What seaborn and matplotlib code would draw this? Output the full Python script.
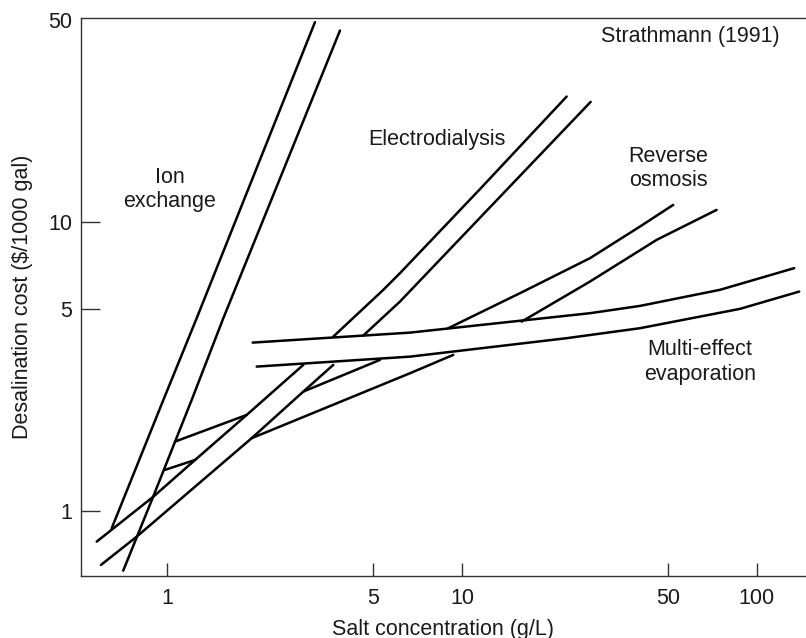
import numpy as np
import pandas as pd
import matplotlib
matplotlib.use("Agg")
import matplotlib.pyplot as plt
import seaborn as sns

# Values: salt concentration (g/L) vs cost ($/1000 gal).
# Each band edge is split where it passes under another band.
ix_left_x = [[0.647, 0.969, 1.257, 3.168]]
ix_left_y = [[0.873, 2.427, 4.652, 49.14]]
ix_right_x = [[0.708, 0.894, 1.209, 1.548, 3.852]]
ix_right_y = [[0.623, 1.121, 2.427, 4.652, 45.97]]

ed_upper_x = [[0.5755, 0.896, 1.241, 1.858, 2.892], [3.656, 5.403, 6.155, 11.5, 22.64]]
ed_upper_y = [[0.785, 1.123, 1.504, 2.153, 3.207], [4.018, 5.829, 6.657, 13.0, 27.17]]
ed_lower_x = [[0.595, 0.787, 1.932, 2.885, 3.656], [4.62, 6.155, 13.45, 27.32]]
ed_lower_y = [[0.652, 0.817, 1.789, 2.587, 3.207], [4.05, 5.31, 12.23, 26.05]]

ro_upper_x = [[1.061, 1.858], [2.892, 5.265], [8.98, 16.13, 27.16, 40.15, 52.09]]
ro_upper_y = [[1.741, 2.153], [2.593, 3.337], [4.295, 5.75, 7.5, 9.65, 11.47]]
ro_lower_x = [[0.981, 1.241], [1.932, 6.657, 9.336], [15.93, 27.16, 45.75, 73.1]]
ro_lower_y = [[1.39, 1.504], [1.789, 3.001, 3.473], [4.527, 6.226, 8.68, 11.02]]

mee_upper_x = [[1.947, 6.657, 27.16, 40.15, 75.0, 134.1]]
mee_upper_y = [[3.83, 4.147, 4.84, 5.13, 5.83, 6.93]]
mee_lower_x = [[2.009, 6.657, 22.64, 40.15, 87.7, 139.4]]
mee_lower_y = [[3.164, 3.425, 3.967, 4.295, 5.01, 5.75]]

x_ticks = [1, 5, 10, 50, 100]
y_ticks = [1, 5, 10, 50]

curves = {
    "ix_left": (ix_left_x, ix_left_y),
    "ix_right": (ix_right_x, ix_right_y),
    "ed_upper": (ed_upper_x, ed_upper_y),
    "ed_lower": (ed_lower_x, ed_lower_y),
    "ro_upper": (ro_upper_x, ro_upper_y),
    "ro_lower": (ro_lower_x, ro_lower_y),
    "mee_upper": (mee_upper_x, mee_upper_y),
    "mee_lower": (mee_lower_x, mee_lower_y),
}

rows = []
for name, (xs, ys) in curves.items():
    for i, (sx, sy) in enumerate(zip(xs, ys)):
        for x, y in zip(sx, sy):
            rows.append({"seg": f"{name}_{i}", "x": x, "y": y})
df = pd.DataFrame(rows)

sns.set_style("ticks")
plt.rcParams["font.family"] = ["Liberation Sans", "DejaVu Sans"]
txt = "#1a1a1a"
fs = 15.5

fig = plt.figure(figsize=(8.06, 6.38), dpi=100)
ax = fig.add_axes([81 / 806, 62 / 638, 725 / 806, 558 / 638])
ax.set_xscale("log")
ax.set_yscale("log")

sns.lineplot(data=df, x="x", y="y", units="seg", estimator=None, sort=False,
             color="black", lw=1.8, ax=ax, legend=False)

ax.set_xlim(0.509, 147)
ax.set_ylim(0.597, 50.8)

ax.set_xticks(x_ticks)
ax.set_xticklabels([str(t) for t in x_ticks])
ax.set_yticks(y_ticks)
ax.set_yticklabels([str(t) for t in y_ticks])
ax.minorticks_off()
ax.tick_params(axis="x", direction="in", length=9.5, width=1.0, color="#333333",
               pad=8.5, labelsize=fs, labelcolor=txt)
ax.tick_params(axis="y", direction="in", length=13.5, width=1.0, color="#333333",
               pad=6.5, labelsize=fs, labelcolor=txt)
# the 50 tick sits on the top frame line, no separate mark
ax.yaxis.get_major_ticks()[-1].tick1line.set_visible(False)

for side in ["left", "bottom", "top"]:
    ax.spines[side].set_color("#333333")
    ax.spines[side].set_linewidth(1.0)
ax.spines["right"].set_visible(False)

ax.set_xlabel("Salt concentration (g/L)", fontsize=fs, color=txt, labelpad=7)
ax.set_ylabel(r"Desalination cost (\$/1000 gal)", fontsize=fs, color=txt, labelpad=11)

labels = [
    ("Ion\nexchange", 0.1228, 0.692),
    ("Electrodialysis", 0.491, 0.782),
    ("Reverse\nosmosis", 0.8097, 0.730),
    ("Multi-effect\nevaporation", 0.8538, 0.3835),
    ("Strathmann (1991)", 0.84, 0.967),
]
for s, fx, fy in labels:
    ax.text(fx, fy, s, transform=ax.transAxes, ha="center", va="center",
            multialignment="center", fontsize=fs, color=txt, linespacing=1.2)

fig.savefig("out.png", dpi=100)
